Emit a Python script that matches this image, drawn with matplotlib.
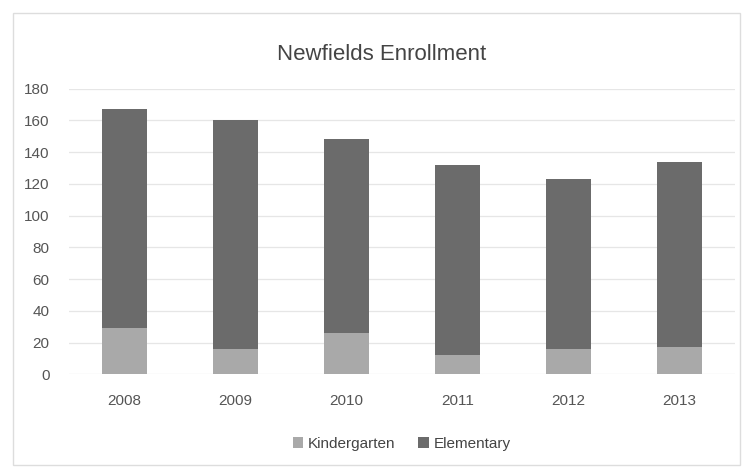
"""
Newfields enrollment, stacked bar chart (Excel-style, grayscale).
"""

import matplotlib.pyplot as plt
import numpy as np
from matplotlib.patches import Rectangle

years = ["2008", "2009", "2010", "2011", "2012", "2013"]
kindergarten = [29, 16, 26, 12, 16, 17]
elementary = [138, 144, 122, 120, 107, 117]

kinder_color = "#a9a9a9"
elem_color = "#6b6b6b"

plt.rcParams["font.family"] = ["Liberation Sans", "DejaVu Sans"]

fig = plt.figure(figsize=(7.49, 4.71), dpi=100)
ax = fig.add_axes([0.092, 0.205, 0.889, 0.607])

x = np.arange(len(years))
ax.bar(x, kindergarten, width=0.41, color=kinder_color, label="Kindergarten", zorder=3)
ax.bar(x, elementary, width=0.41, bottom=kindergarten, color=elem_color,
       label="Elementary", zorder=3)

ax.set_xlim(-0.5, len(years) - 0.5)
ax.set_ylim(0, 180)
ax.set_yticks(range(0, 181, 20))
ax.set_xticks(x)
ax.set_xticklabels(years)
ax.tick_params(axis="both", length=0, colors="#555555", labelsize=11)
ax.tick_params(axis="x", pad=14)
ax.tick_params(axis="y", pad=14)
ax.grid(axis="y", color="#e6e6e6", linewidth=0.9, zorder=0)
for side in ax.spines.values():
    side.set_visible(False)

fig.text(0.51, 0.885, "Newfields Enrollment", ha="center", va="center",
         fontsize=16, color="#444444")

ax.legend(loc="upper center", bbox_to_anchor=(0.5, -0.17), ncol=2, frameon=False,
          fontsize=11, handlelength=0.7, handleheight=0.7, columnspacing=1.5,
          handletextpad=0.3, labelcolor="#444444")

fig.patches.append(Rectangle((13 / 749, 6 / 471), 727 / 749, 452 / 471,
                             transform=fig.transFigure, fill=False,
                             edgecolor="#dddddd", linewidth=1.0))

fig.savefig("out.png")
